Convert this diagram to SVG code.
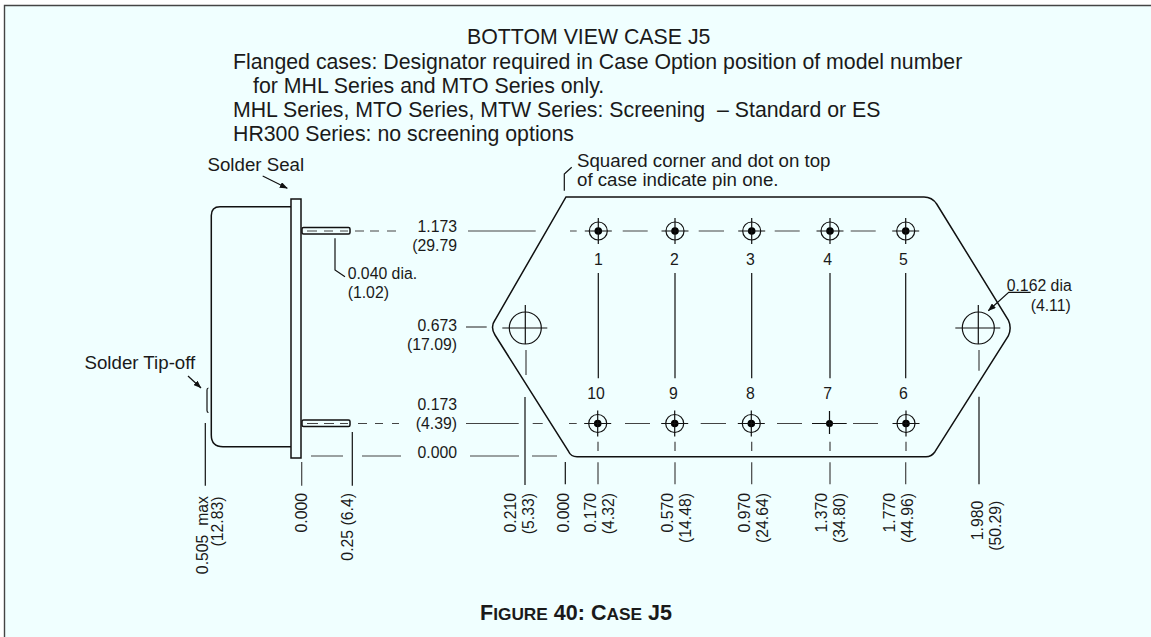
<svg xmlns="http://www.w3.org/2000/svg" width="1151" height="637" viewBox="0 0 1151 637">
<style>
text{font-family:"Liberation Sans",Arial,sans-serif;font-size:15.8px;fill:#1a1a1a;white-space:pre}
.t{font-size:21.3px}
.n{font-size:18.7px}
.s{fill:none;stroke:#111;stroke-width:1.2}
.o{fill:none;stroke:#111;stroke-width:1.5}
.d{fill:none;stroke:#444;stroke-width:1.2}
.e{text-anchor:end}
</style>
<defs>
<marker id="a" markerWidth="8" markerHeight="6" refX="7.500" refY="3" orient="auto" markerUnits="userSpaceOnUse"><path d="M0 0L8 3L0 6Z" fill="#111"/></marker>
<g id="pin"><circle r="9" fill="none" stroke="#111" stroke-width="1.2"/><circle r="3.800" fill="#000"/><path class="s" d="M-13.500 0H13.500M0-13V13"/></g>
<g id="hole"><circle r="16" fill="none" stroke="#111" stroke-width="1.2"/><path class="s" d="M-23 0H22M0-23V16"/></g>
</defs>
<rect x="0" y="0" width="1151" height="637" fill="#fff"/>
<rect x="4.500" y="5.500" width="1146.500" height="631.500" fill="#f0ffff"/>
<path d="M4.500 637V5.500H1151" fill="none" stroke="#444" stroke-width="1.4"/>
<g id="title"><text class="t" x="467" y="44">BOTTOM VIEW CASE J5</text>
<text class="t" x="233" y="69">Flanged cases: Designator required in Case Option position of model number</text>
<text class="t" x="253" y="92.700">for MHL Series and MTO Series only.</text>
<text class="t" x="233" y="116.700">MHL Series, MTO Series, MTW Series: Screening  – Standard or ES</text>
<text class="t" x="233" y="140.700">HR300 Series: no screening options</text></g>
<g id="side-view"><path class="o" d="M291 206.700H220Q211.300 206.700 211.300 215.500V435Q211.300 446.700 223 446.700H291"/>
<rect class="o" x="291" y="199" width="10" height="259"/>
<rect class="o" x="302" y="227.500" width="48" height="6.500" rx="1.500"/>
<rect class="o" x="302" y="420" width="48" height="6.500" rx="1.500"/>
<path class="s" d="M208.500 388Q207 388 207 390V410.500Q207 412.500 208.500 412.500"/></g>
<g id="case"><path class="o" d="M566 197H924Q932 197 936.700 204L1008.300 320Q1012 328 1008.300 336L935 451.700Q931.500 456.700 926 456.700H577Q571 456.700 568.700 451.700L495 335Q490 327 495 320Z"/></g>
<g id="pins"><use href="#pin" x="598.300" y="231"/><use href="#pin" x="675" y="231"/><use href="#pin" x="751.700" y="231"/><use href="#pin" x="830" y="231"/><use href="#pin" x="905.700" y="231"/>
<use href="#pin" x="597.700" y="423.500"/><use href="#pin" x="674.700" y="423.500"/><use href="#pin" x="751.300" y="423.500"/><circle cx="829.500" cy="423.500" r="3.500" fill="#000"/><path class="s" d="M812 423.500H846.700M829.500 411V434"/><use href="#pin" x="906" y="423.500"/>
<use href="#hole" x="525.300" y="328"/><use href="#hole" x="978.300" y="328"/></g>
<g id="connectors">
<path class="d" d="M355 231H364M370 231H379M387 231H396M468 231H535.700M570 231H576.700M622.700 231H647.700M698.700 231H724M774.700 231H799.700M850.700 231H875.700"/>
<path class="d" d="M307 231H317M324 231H333M340 231H348M307 423.500H318M324 423.500H334M340 423.500H348"/>
<path class="d" d="M358 423.500H367M375 423.500H383M392 423.500H399M466 423.500H518.700M532.700 423.500H542.700M569 423.500H576.700M625 423.500H650M700.700 423.500H726M777 423.500H802M853 423.500H878"/>
<path class="d" d="M311 456H343M362 456H401M470 456H519M532 456H557"/>
<path class="d" d="M466 327H486.700"/>
<path class="s" d="M598.300 273V378.300M675 273V378.300M751.700 273V378.300M830 273V378.300M905.700 273V378.300"/>
<path class="d" d="M526 350V375M979 350V370.700M301.700 462V485.700"/>
<path class="s" d="M525 397V485M979 396.700V484.300"/>
<path class="d" d="M598 441.700V451M675 441.700V451M751.700 441.700V451M830 441.700V451M906 441.700V451M598 462.300V484.300M675 462.300V484.300M751.700 462.300V484.300M830 462.300V484.300M905.700 462.300V484.300"/>
<path class="s" d="M565.300 462V484.300M205.300 423V485.700M352.300 432V485.700"/>
<path class="s" d="M335 238.300V270L345 276.700"/>
<path class="s" d="M564.300 190.700V174L571.700 167.300"/>
<path class="s" d="M262.700 176L287.300 188.300" marker-end="url(#a)"/>
<path class="s" d="M188 376L201 388" marker-end="url(#a)"/>
<path class="s" d="M1030.700 292.300H1008.700L988.300 310.700" marker-end="url(#a)"/>
</g>
<g id="labels">
<text class="e" x="457" y="232.300">1.173</text><text class="e" x="457" y="250.700">(29.79</text>
<text class="e" x="457" y="331">0.673</text><text class="e" x="457" y="350">(17.09)</text>
<text class="e" x="457" y="410">0.173</text><text class="e" x="457" y="429">(4.39)</text><text class="e" x="457" y="458.300">0.000</text>
<text x="347.700" y="279">0.040 dia.</text><text x="347.700" y="298">(1.02)</text>
<text class="n" x="207.500" y="171">Solder Seal</text><text class="n" x="84.500" y="369">Solder Tip-off</text>
<text class="n" x="577" y="166.700">Squared corner and dot on top</text><text class="n" x="577" y="186">of case indicate pin one.</text>
<text x="1006.700" y="291">0.162 dia</text><text x="1030.700" y="310.700">(4.11)</text>
<text x="594" y="265">1</text><text x="670" y="265">2</text><text x="746" y="265">3</text><text x="823.300" y="265">4</text><text x="899" y="265">5</text>
<text x="587.300" y="399.300">10</text><text x="669" y="399.300">9</text><text x="746" y="399.300">8</text><text x="823.300" y="399.300">7</text><text x="899" y="399.300">6</text>
<text class="e" transform="translate(208 496) rotate(-90)">0.505  max</text>
<text class="e" transform="translate(223 496.500) rotate(-90)">(12.83)</text>
<text class="e" transform="translate(307 493) rotate(-90)">0.000</text>
<text class="e" transform="translate(353.300 493) rotate(-90)">0.25 (6.4)</text>
<text class="e" transform="translate(515.700 493) rotate(-90)">0.210</text><text class="e" transform="translate(534 493) rotate(-90)">(5.33)</text>
<text class="e" transform="translate(569.300 493) rotate(-90)">0.000</text>
<text class="e" transform="translate(596 493) rotate(-90)">0.170</text><text class="e" transform="translate(614 493) rotate(-90)">(4.32)</text>
<text class="e" transform="translate(672.700 493) rotate(-90)">0.570</text><text class="e" transform="translate(691 493) rotate(-90)">(14.48)</text>
<text class="e" transform="translate(750 493) rotate(-90)">0.970</text><text class="e" transform="translate(768 493) rotate(-90)">(24.64)</text>
<text class="e" transform="translate(826.700 493) rotate(-90)">1.370</text><text class="e" transform="translate(845 493) rotate(-90)">(34.80)</text>
<text class="e" transform="translate(895 493) rotate(-90)">1.770</text><text class="e" transform="translate(913 493) rotate(-90)">(44.96)</text>
<text class="e" transform="translate(982.700 500.700) rotate(-90)">1.980</text><text class="e" transform="translate(1001 500.700) rotate(-90)">(50.29)</text>
</g>
<text id="caption" x="480" y="620" style="font-weight:700;font-size:21.5px">F<tspan style="font-size:17.300px">IGURE</tspan> 40: C<tspan style="font-size:17.300px">ASE</tspan> J5</text>
</svg>
